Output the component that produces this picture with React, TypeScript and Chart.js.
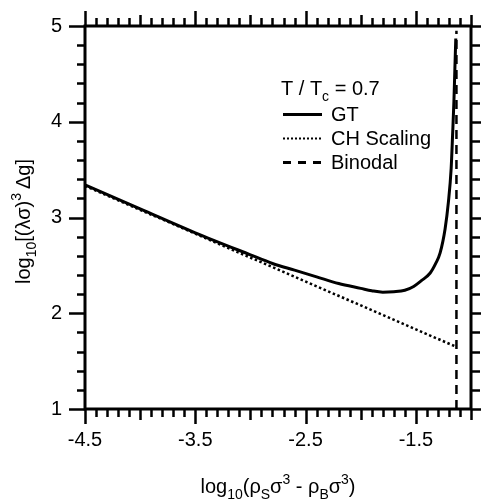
import React, { useEffect, useRef } from "react";
import { Chart, registerables } from "chart.js";

Chart.register(...registerables);

// ---- data ----
const xGT = [-4.5, -4.0, -3.5, -3.0, -2.8, -2.6, -2.4, -2.2, -2.0, -1.9, -1.8, -1.7, -1.6, -1.52, -1.45, -1.37, -1.32, -1.28, -1.235, -1.205, -1.18, -1.167, -1.155, -1.146, -1.138];
const yGT = [3.34, 3.09, 2.84, 2.61, 2.52, 2.45, 2.38, 2.31, 2.26, 2.235, 2.22, 2.225, 2.24, 2.28, 2.34, 2.42, 2.52, 2.63, 2.88, 3.16, 3.51, 3.86, 4.21, 4.56, 4.87];
const xCH = [-4.5, -1.135];
const yCH = [3.33, 1.65];
const xBinodal = [-1.132, -1.132];
const yBinodal = [1.0, 4.95];

const xTickLabels = [-4.5, -3.5, -2.5, -1.5];
const yTickLabels = [1, 2, 3, 4, 5];
const xRange = [-4.5, -1.0];
const yRange = [1, 5];
const xMinorStep = 0.1;
const yMinorStep = 0.2;

const FONT = "'Liberation Sans', Arial, Helvetica, sans-serif";

type Part = [string, number]; // 0 normal, 1 sub, 2 sup

function partFont(mode: number) {
  return mode === 0 ? `20px ${FONT}` : `14px ${FONT}`;
}

function drawRich(ctx: CanvasRenderingContext2D, parts: Part[], x: number, y: number, align: "left" | "center", rotate = false) {
  ctx.save();
  ctx.translate(x, y);
  if (rotate) ctx.rotate(-Math.PI / 2);
  ctx.textBaseline = "alphabetic";
  ctx.textAlign = "left";
  ctx.fillStyle = "#000";
  let total = 0;
  for (const [t, m] of parts) {
    ctx.font = partFont(m);
    total += ctx.measureText(t).width;
  }
  let cx = align === "center" ? -total / 2 : 0;
  for (const [t, m] of parts) {
    ctx.font = partFont(m);
    const dy = m === 1 ? 6 : m === 2 ? -9 : 0;
    ctx.fillText(t, cx, dy);
    cx += ctx.measureText(t).width;
  }
  ctx.restore();
}

const decorPlugin = {
  id: "decor",
  afterDraw(chart: any) {
    const ctx: CanvasRenderingContext2D = chart.ctx;
    const { left, right, top, bottom } = chart.chartArea;
    const xs = chart.scales.x;
    const ys = chart.scales.y;
    ctx.save();
    ctx.strokeStyle = "#000";
    ctx.lineCap = "butt";

    // ticks
    ctx.lineWidth = 2.5;
    const nx = Math.round((xRange[1] - xRange[0]) / xMinorStep);
    for (let i = 0; i <= nx; i++) {
      const v = xRange[0] + i * xMinorStep;
      const isMajor = xTickLabels.some((t) => Math.abs(t - v) < 1e-6);
      const isMed = !isMajor && Math.abs(v * 2 - Math.round(v * 2)) < 1e-6;
      const len = isMajor ? 15 : isMed ? 11 : 8;
      const px = Math.round(xs.getPixelForValue(v)) + 0.5;
      ctx.beginPath();
      ctx.moveTo(px, bottom);
      ctx.lineTo(px, bottom + len);
      ctx.moveTo(px, top);
      ctx.lineTo(px, top - len);
      ctx.stroke();
    }
    const ny = Math.round((yRange[1] - yRange[0]) / yMinorStep);
    for (let i = 0; i <= ny; i++) {
      const v = yRange[0] + i * yMinorStep;
      const isMajor = yTickLabels.some((t) => Math.abs(t - v) < 1e-6);
      const len = isMajor ? 16 : 8;
      const py = Math.round(ys.getPixelForValue(v)) + 0.5;
      ctx.beginPath();
      ctx.moveTo(left, py);
      ctx.lineTo(left - len, py);
      ctx.moveTo(right, py);
      ctx.lineTo(right + (isMajor ? 10 : 9), py);
      ctx.stroke();
    }

    // frame
    ctx.lineWidth = 3;
    ctx.strokeRect(left, top, right - left, bottom - top);

    // axis titles
    const cxMid = (left + right) / 2;
    drawRich(ctx, [["log", 0], ["10", 1], ["(ρ", 0], ["S", 1], ["σ", 0], ["3", 2], [" - ρ", 0], ["B", 1], ["σ", 0], ["3", 2], [")", 0]], cxMid, 493, "center");
    const cyMid = (top + bottom) / 2;
    drawRich(ctx, [["log", 0], ["10", 1], ["[(λσ)", 0], ["3", 2], ["\u2009Δg]", 0]], 30, cyMid + 4, "center", true);

    // legend
    drawRich(ctx, [["T / T", 0], ["c", 1], [" = 0.7", 0]], 281, 95, "left");
    const rows: [string, number[]][] = [["GT", []], ["CH Scaling", [2, 2]], ["Binodal", [8, 7]]];
    rows.forEach(([label, dash], i) => {
      const y = 114 + i * 24;
      ctx.save();
      ctx.lineWidth = dash.length && dash[0] === 2 ? 2 : 3;
      ctx.setLineDash(dash);
      ctx.beginPath();
      ctx.moveTo(283, y + 0.5);
      ctx.lineTo(322, y + 0.5);
      ctx.stroke();
      ctx.restore();
      drawRich(ctx, [[label, 0]], 331, y + 7, "left");
    });
    ctx.restore();
  },
};

export default function App() {
  const ref = useRef<HTMLCanvasElement | null>(null);
  useEffect(() => {
    document.body.style.margin = "0";
    const canvas = ref.current!;
    const chart = new Chart(canvas, {
      type: "line",
      data: {
        datasets: [
          {
            label: "GT",
            data: xGT.map((x, i) => ({ x, y: yGT[i] })),
            borderColor: "#000",
            borderWidth: 3,
            pointRadius: 0,
            cubicInterpolationMode: "monotone",
            fill: false,
          },
          {
            label: "CH Scaling",
            data: xCH.map((x, i) => ({ x, y: yCH[i] })),
            borderColor: "#000",
            borderWidth: 2.5,
            borderDash: [2.5, 2.5],
            pointRadius: 0,
            fill: false,
          },
          {
            label: "Binodal",
            data: xBinodal.map((x, i) => ({ x, y: yBinodal[i] })),
            borderColor: "#000",
            borderWidth: 2.5,
            borderDash: [9, 6],
            pointRadius: 0,
            fill: false,
          },
        ],
      },
      options: {
        responsive: false,
        animation: false,
        devicePixelRatio: 1,
        layout: { padding: { top: 26, right: 13, left: 0, bottom: 0 } },
        plugins: { legend: { display: false }, tooltip: { enabled: false } },
        scales: {
          x: {
            type: "linear",
            min: xRange[0],
            max: xRange[1],
            border: { display: false },
            grid: { display: true, drawOnChartArea: false, drawTicks: true, tickLength: 15, tickColor: "rgba(0,0,0,0)" },
            ticks: {
              color: "#000",
              font: { family: FONT, size: 20 },
              padding: 4,
              maxRotation: 0,
              autoSkip: false,
              callback: (v: any) => String(v),
            },
            afterBuildTicks: (s: any) => {
              s.ticks = xTickLabels.map((v) => ({ value: v }));
            },
            afterFit: (s: any) => {
              s.height = 91;
            },
          },
          y: {
            type: "linear",
            min: yRange[0],
            max: yRange[1],
            border: { display: false },
            grid: { display: true, drawOnChartArea: false, drawTicks: true, tickLength: 17, tickColor: "rgba(0,0,0,0)" },
            ticks: {
              color: "#000",
              font: { family: FONT, size: 20 },
              padding: 6,
              callback: (v: any) => String(v),
            },
            afterBuildTicks: (s: any) => {
              s.ticks = yTickLabels.map((v) => ({ value: v }));
            },
            afterFit: (s: any) => {
              s.width = 85;
            },
          },
        },
      },
      plugins: [decorPlugin],
    } as any);
    return () => chart.destroy();
  }, []);
  return (
    <div style={{ width: 484, height: 500 }}>
      <canvas ref={ref} width={484} height={500} style={{ width: 484, height: 500, display: "block" }} />
    </div>
  );
}
